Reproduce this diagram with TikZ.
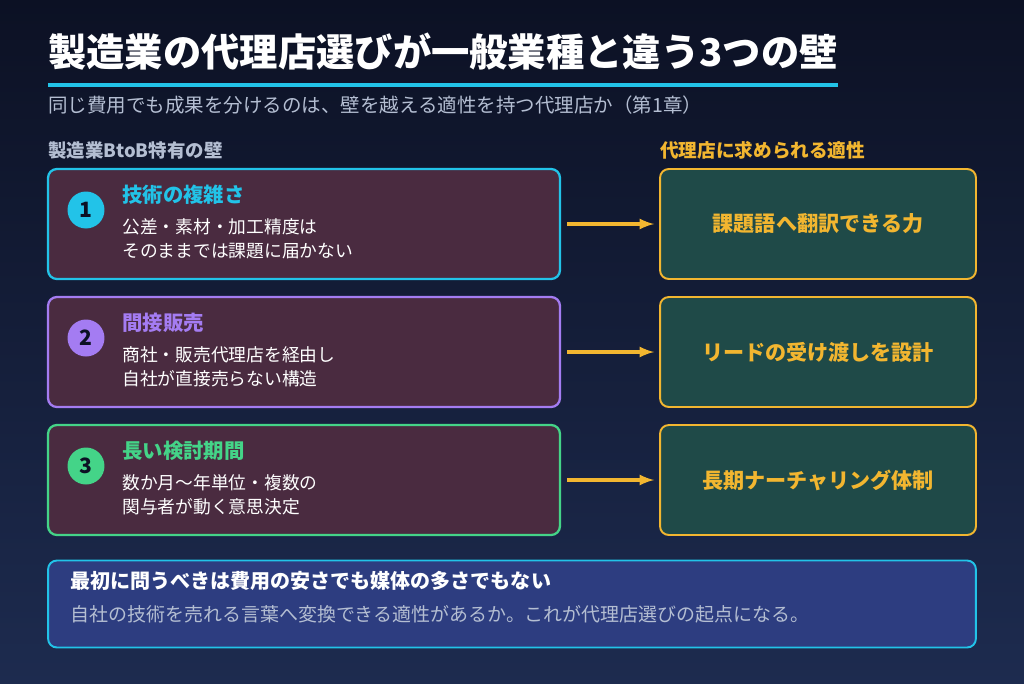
\documentclass[tikz,border=0pt]{standalone}
\usepackage{fontspec}
\setmainfont{Noto Sans CJK JP}
\usetikzlibrary{positioning}
\definecolor{bgtop}{HTML}{0C1124}
\definecolor{bgbot}{HTML}{1D2B4F}
\definecolor{wallfill}{HTML}{4A2B40}
\definecolor{fitfill}{HTML}{1F4A48}
\definecolor{notefill}{HTML}{2D3D80}
\definecolor{cyanc}{HTML}{22C3E8}
\definecolor{purplec}{HTML}{A47CF2}
\definecolor{greenc}{HTML}{44D488}
\definecolor{yellowc}{HTML}{F2B630}
\definecolor{greyc}{HTML}{B4BED2}
\tikzset{
  wall/.style={draw=#1, line width=1.3pt, fill=wallfill, rounded corners=5pt, minimum width=10.24cm, minimum height=2.2cm},
  fit/.style={draw=yellowc, line width=1.1pt, fill=fitfill, rounded corners=5pt, minimum width=6.32cm, minimum height=2.2cm, text=yellowc, font=\fontsize{12}{14}\selectfont\bfseries},
  num/.style={circle, fill=#1, minimum size=0.74cm, inner sep=0pt, text=bgtop, font=\fontsize{12}{14}\selectfont\bfseries},
  head/.style={anchor=west, text=#1, inner sep=0pt, font=\fontsize{11.6}{14}\selectfont\bfseries},
  desc/.style={anchor=north west, text=white, align=left, inner sep=0pt, font=\fontsize{10.1}{13.6}\selectfont},
  link/.style={-latex, draw=yellowc, line width=1.8pt}
}
\begin{document}
\begin{tikzpicture}[x=0.02cm,y=-0.02cm]
\shade[top color=bgtop, bottom color=bgbot] (0,0) rectangle (1024,683);
\useasboundingbox (0,0) rectangle (1024,683);
% title
\node[anchor=west, text=white, font=\fontsize{21.8}{26}\selectfont\bfseries, inner sep=0pt] (title) at (48,52) {製造業の代理店選びが一般業種と違う3つの壁};
\draw[cyanc, line width=2.4pt] (48,85) -- (838,85);
\node[anchor=west, text=greyc, font=\fontsize{11.1}{13}\selectfont, inner sep=0pt] (sub) at (48,105) {同じ費用でも成果を分けるのは、壁を越える適性を持つ代理店か（第1章）};
\node[anchor=west, text=greyc, font=\fontsize{10.5}{12}\selectfont\bfseries, inner sep=0pt] (lhead) at (48,150) {製造業BtoB特有の壁};
\node[anchor=west, text=yellowc, font=\fontsize{10.6}{12}\selectfont\bfseries, inner sep=0pt] (rhead) at (660,150) {代理店に求められる適性};
% walls
\node[wall=cyanc] (w1) at (304,224) {};
\node[wall=purplec] (w2) at (304,352) {};
\node[wall=greenc] (w3) at (304,480) {};
\node[num=cyanc] (n1) at (86,210) {1};
\node[num=purplec] (n2) at (86,338) {2};
\node[num=greenc] (n3) at (86,466) {3};
\node[head=cyanc] (h1) at (122,195) {技術の複雑さ};
\node[head=purplec] (h2) at (122,323) {間接販売};
\node[head=greenc] (h3) at (122,451) {長い検討期間};
\node[desc] (d1) at (122,218) {公差・素材・加工精度は\\そのままでは課題に届かない};
\node[desc] (d2) at (122,346) {商社・販売代理店を経由し\\自社が直接売らない構造};
\node[desc] (d3) at (122,474) {数か月〜年単位・複数の\\関与者が動く意思決定};
% fits
\node[fit] (f1) at (818,224) {課題語へ翻訳できる力};
\node[fit] (f2) at (818,352) {リードの受け渡しを設計};
\node[fit] (f3) at (818,480) {長期ナーチャリング体制};
\draw[link] ([xshift=0.12cm]w1.east) -- ([xshift=-0.1cm]f1.west);
\draw[link] ([xshift=0.12cm]w2.east) -- ([xshift=-0.1cm]f2.west);
\draw[link] ([xshift=0.12cm]w3.east) -- ([xshift=-0.1cm]f3.west);
% note
\node[draw=cyanc, line width=1.1pt, fill=notefill, rounded corners=5pt, minimum width=18.56cm, minimum height=1.74cm] (note) at (512,604) {};
\node[anchor=west, text=white, font=\fontsize{11.4}{13}\selectfont\bfseries, inner sep=0pt] (n1t) at (70,581) {最初に問うべきは費用の安さでも媒体の多さでもない};
\node[anchor=west, text=greyc, font=\fontsize{10.8}{13}\selectfont, inner sep=0pt] (n2t) at (70,614) {自社の技術を売れる言葉へ変換できる適性があるか。これが代理店選びの起点になる。};
\end{tikzpicture}
\end{document}
